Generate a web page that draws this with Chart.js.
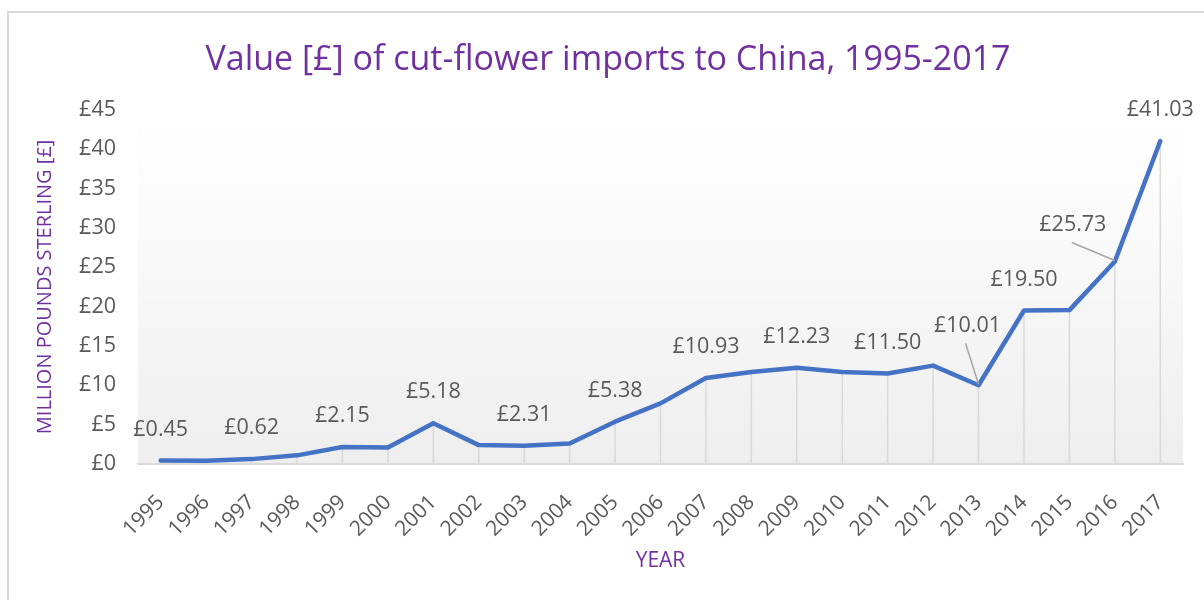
<!DOCTYPE html>
<html><head><meta charset="utf-8">
<script src="https://cdn.jsdelivr.net/npm/chart.js@4.4.0/dist/chart.umd.min.js"></script>
<style>
html,body{margin:0;padding:0;background:#fff;}
#wrap{position:relative;width:1204px;height:600px;overflow:hidden;}
#frame{position:absolute;left:7px;top:11px;width:1220px;height:620px;border:2px solid #d9d9d9;box-sizing:border-box;}
canvas{position:absolute;left:0;top:0;}
</style></head><body>
<div id="wrap"><div id="frame"></div><canvas id="c" width="1204" height="600"></canvas></div>
<script>
// ---- data ----
const years = ['1995','1996','1997','1998','1999','2000','2001','2002','2003','2004','2005','2006','2007','2008','2009','2010','2011','2012','2013','2014','2015','2016','2017'];
const valuesGBPm = [0.45,0.42,0.62,1.10,2.15,2.10,5.18,2.40,2.31,2.60,5.38,7.70,10.93,11.70,12.23,11.70,11.50,12.50,10.01,19.50,19.55,25.73,41.03];
const labelledYears = ['1995','1997','1999','2001','2003','2005','2007','2009','2011','2013','2014','2016','2017'];
const yTickStep = 5, yMin = 0, yMax = 45;
const titleText = 'Value [£] of cut-flower imports to China, 1995-2017';
const xTitle = 'YEAR';
const yTitle = 'MILLION POUNDS STERLING [£]';

// ---- styling ----
const PURPLE = '#7030A0', GREY_TXT = '#595959', FONT = 'Open Sans';
const labelStyle = {
  defaultDy: -31,
  custom: { '2013': {dx:-11, dy:-59, leader:[-13,-42]}, '2016': {dx:-42, dy:-37, leader:[-43,-19]} }
};

const bgPlugin = {
  id:'bg',
  beforeDraw(chart){
    const {ctx, chartArea:a} = chart;
    const g = ctx.createLinearGradient(0, a.top, 0, a.bottom);
    g.addColorStop(0, '#ffffff');
    g.addColorStop(0.12, '#fefefe');
    g.addColorStop(1, '#eeeeee');
    ctx.save(); ctx.fillStyle = g; ctx.fillRect(a.left, a.top, a.right-a.left, a.bottom-a.top); ctx.restore();
  }
};
const dropPlugin = {
  id:'drop',
  beforeDatasetsDraw(chart){
    const {ctx, chartArea:a} = chart;
    const pts = chart.getDatasetMeta(0).data;
    ctx.save(); ctx.strokeStyle = '#d9d9d9'; ctx.lineWidth = 1.5;
    pts.forEach(p => { ctx.beginPath(); ctx.moveTo(p.x, p.y); ctx.lineTo(p.x, a.bottom); ctx.stroke(); });
    ctx.restore();
  }
};
const labelPlugin = {
  id:'dlabels',
  afterDatasetsDraw(chart){
    const ctx = chart.ctx;
    const pts = chart.getDatasetMeta(0).data;
    ctx.save();
    ctx.font = '21.5px "' + FONT + '"'; ctx.fillStyle = GREY_TXT; ctx.textAlign = 'center'; ctx.textBaseline = 'middle';
    years.forEach((yr, i) => {
      if (!labelledYears.includes(yr)) return;
      const p = pts[i]; const c = labelStyle.custom[yr] || {dx:0, dy:labelStyle.defaultDy};
      if (c.leader) {
        ctx.strokeStyle = '#a6a6a6'; ctx.lineWidth = 1.5;
        ctx.beginPath(); ctx.moveTo(p.x + c.leader[0], p.y + c.leader[1]); ctx.lineTo(p.x, p.y - 1); ctx.stroke();
      }
      ctx.fillText('£' + valuesGBPm[i].toFixed(2), p.x + c.dx, p.y + c.dy);
    });
    ctx.restore();
  }
};

function draw(){
  new Chart(document.getElementById('c'), {
    type:'line',
    data:{ labels: years, datasets:[{ data: valuesGBPm, borderColor:'#4472C4', borderWidth:4.5, pointRadius:0, tension:0, borderJoinStyle:'round', borderCapStyle:'round', fill:false }] },
    options:{
      responsive:false, animation:false, devicePixelRatio:1,
      layout:{ padding:{ left:33, right:21, top:0, bottom:0 } },
      plugins:{
        legend:{display:false}, tooltip:{enabled:false},
        title:{ display:true, text:titleText, color:PURPLE, font:{family:FONT, size:34, weight:'normal'}, padding:{top:40, bottom:29} }
      },
      scales:{
        x:{
          offset:true,
          grid:{display:false, drawTicks:false},
          border:{display:true, color:'#d9d9d9', width:2},
          ticks:{ color:GREY_TXT, font:{family:FONT, size:21}, minRotation:45, maxRotation:45, autoSkip:false, padding:26 },
          title:{ display:true, text:xTitle, color:PURPLE, font:{family:FONT, size:21}, padding:{top:0, bottom:26} },
          afterFit(s){ s.height = 136; s.paddingLeft = 0; s.paddingRight = 0; }
        },
        y:{
          min:yMin, max:yMax,
          grid:{display:false, drawTicks:false},
          border:{display:false},
          ticks:{ stepSize:yTickStep, callback:v => '£' + v, color:GREY_TXT, font:{family:FONT, size:21.5}, padding:22 },
          title:{ display:true, text:yTitle, color:PURPLE, font:{family:FONT, size:20}, padding:{top:0, bottom:0} },
          afterFit(s){ s.width = 105; }
        }
      }
    },
    plugins:[bgPlugin, dropPlugin, labelPlugin]
  });
}
if (document.fonts && document.fonts.load) {
  Promise.all([document.fonts.load('20px "Open Sans"')]).then(draw, draw);
} else draw();
</script>
</body></html>
